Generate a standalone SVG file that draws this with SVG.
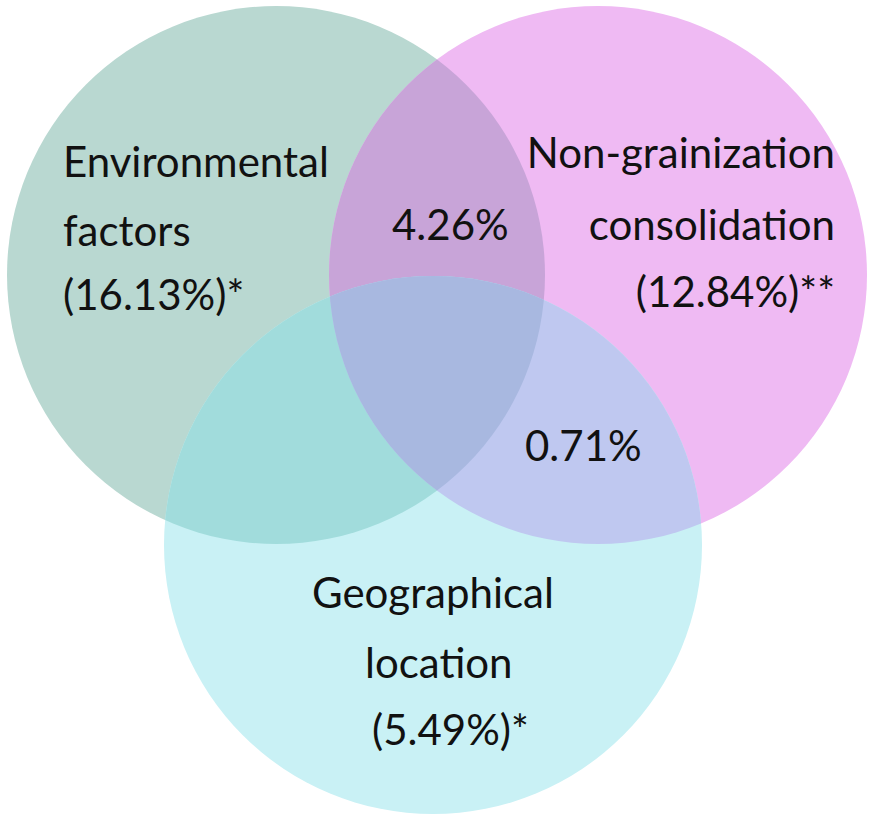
<svg xmlns="http://www.w3.org/2000/svg" width="874" height="821" viewBox="0 0 874 821">
<style>
  .lbl { font-family: Lato, "Open Sans", "Liberation Sans", sans-serif; font-size: 42px; fill: #111; }
</style>
<defs>
  <clipPath id="clipL"><circle cx="276" cy="275" r="269"/></clipPath>
  <clipPath id="clipP"><circle cx="598" cy="275" r="269"/></clipPath>
  <clipPath id="clipC"><circle cx="433" cy="545" r="269"/></clipPath>
</defs>
<rect width="874" height="821" fill="#ffffff"/>
<g id="circle-environmental">
  <circle cx="276" cy="275" r="269" fill="#b9d8d1"/>
</g>
<g id="circle-nongrain">
  <circle cx="598" cy="275" r="269" fill="#efbaf3"/>
</g>
<g id="circle-geo">
  <circle cx="433" cy="545" r="269" fill="#c9f1f5"/>
</g>
<g id="overlaps">
  <circle cx="598" cy="275" r="269" fill="#c8a4d8" clip-path="url(#clipL)"/>
  <circle cx="433" cy="545" r="269" fill="#a1dcdc" clip-path="url(#clipL)"/>
  <circle cx="433" cy="545" r="269" fill="#bfc8f0" clip-path="url(#clipP)"/>
  <g clip-path="url(#clipL)">
    <circle cx="433" cy="545" r="269" fill="#a8b8e0" clip-path="url(#clipP)"/>
  </g>
</g>
<g id="labels">
  <text class="lbl" x="63" y="177">Environmental</text>
  <text class="lbl" x="63" y="246">factors</text>
  <text class="lbl" x="63" y="310">(16.13%)*</text>
  <text class="lbl" x="392" y="240">4.26%</text>
  <text class="lbl" x="835" y="168" text-anchor="end">Non-grainization</text>
  <text class="lbl" x="835" y="240" text-anchor="end">consolidation</text>
  <text class="lbl" x="835" y="307" text-anchor="end">(12.84%)**</text>
  <text class="lbl" x="525" y="461">0.71%</text>
  <text class="lbl" x="312" y="608">Geographical</text>
  <text class="lbl" x="365" y="678">location</text>
  <text class="lbl" x="372" y="745">(5.49%)*</text>
</g>
</svg>
